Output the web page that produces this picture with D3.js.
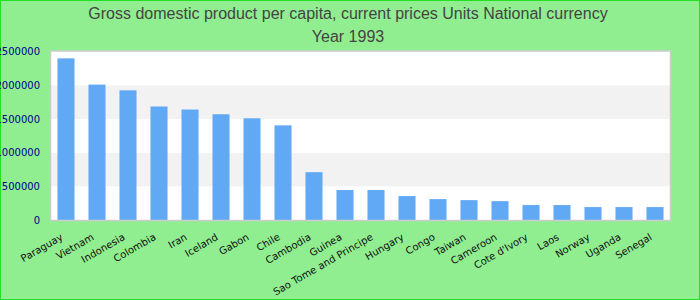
<!DOCTYPE html>
<html>
<head>
<meta charset="utf-8">
<script src="https://cdn.jsdelivr.net/npm/d3@7"></script>
<style>
  body { margin: 0; padding: 0; background: #90ee90; }
  svg { display: block; }
</style>
</head>
<body>
<script>
// data
var countries = ["Paraguay", "Vietnam", "Indonesia", "Colombia", "Iran", "Iceland", "Gabon", "Chile",
    "Cambodia", "Guinea", "Sao Tome and Principe", "Hungary", "Congo", "Taiwan", "Cameroon",
    "Cote d'Ivory", "Laos", "Norway", "Uganda", "Senegal"];
var values = [2400000, 2010000, 1925000, 1685000, 1640000, 1570000, 1510000, 1405000,
    710000, 445000, 445000, 355000, 310000, 295000, 280000,
    222000, 222000, 192000, 192000, 192000];
var yTicks = [0, 500000, 1000000, 1500000, 2000000, 2500000];
var titleLines = ["Gross domestic product per capita, current prices Units National currency", "Year 1993"];

var W = 700, H = 300;
var plot = {left: 50.5, right: 670.5, top: 51, bottom: 220.5};

var svg = d3.select("body").append("svg")
    .attr("width", W)
    .attr("height", H);

// background + outer border
svg.append("rect")
    .attr("x", 0.5).attr("y", 0.5)
    .attr("width", W - 1).attr("height", H - 1)
    .attr("fill", "#90ee90")
    .attr("stroke", "#22e022")
    .attr("stroke-width", 1);

// titles
svg.selectAll(".title")
    .data(titleLines)
    .enter()
    .append("text")
    .attr("class", "title")
    .attr("x", 348)
    .attr("y", function(d, i) { return 19 + i * 23; })
    .attr("text-anchor", "middle")
    .attr("fill", "#444")
    .style("font-family", "'Liberation Sans', Arial, sans-serif")
    .style("font-size", "16px")
    .text(function(d) { return d; });

// scales
var x = d3.scaleBand()
    .domain(countries)
    .range([plot.left, plot.right])
    .paddingInner(0.45)
    .paddingOuter(0.225);
var y = d3.scaleLinear()
    .domain([0, 2500000])
    .range([220, 51.6]);

// plot area + alternating bands
svg.append("rect")
    .attr("x", plot.left).attr("y", plot.top)
    .attr("width", plot.right - plot.left)
    .attr("height", plot.bottom - plot.top)
    .attr("fill", "#fff");

svg.selectAll(".band")
    .data(yTicks.slice(0, -1))
    .enter()
    .append("rect")
    .attr("class", "band")
    .attr("x", plot.left)
    .attr("width", plot.right - plot.left)
    .attr("y", function(d, i) { return i == yTicks.length - 2 ? plot.top : y(yTicks[i + 1]); })
    .attr("height", function(d, i) { return y(d) - (i == yTicks.length - 2 ? plot.top : y(yTicks[i + 1])); })
    .attr("fill", function(d, i) { return i % 2 ? "#f2f2f2" : "#fff"; });

// bars
svg.selectAll(".bar")
    .data(values)
    .enter()
    .append("rect")
    .attr("class", "bar")
    .attr("x", function(d, i) { return x(countries[i]); })
    .attr("width", x.bandwidth())
    .attr("y", function(d) { return y(d); })
    .attr("height", function(d) { return y(0) - y(d); })
    .attr("fill", "#62a9f5");

// plot border
svg.append("rect")
    .attr("x", plot.left).attr("y", plot.top)
    .attr("width", plot.right - plot.left)
    .attr("height", plot.bottom - plot.top)
    .attr("fill", "none")
    .attr("stroke", "#ccc")
    .attr("stroke-width", 1.5);

// y axis: labels only
var yAxis = svg.append("g")
    .attr("transform", "translate(40,0)")
    .call(d3.axisLeft(y).tickValues(yTicks).tickSize(0).tickPadding(0).tickFormat(d3.format("d")));
yAxis.select(".domain").remove();
yAxis.selectAll("text")
    .attr("fill", "#00008b")
    .style("font-family", "'DejaVu Sans', sans-serif")
    .style("font-size", "10px");

// x axis: rotated labels only
var xAxis = svg.append("g")
    .attr("transform", "translate(0,221)")
    .call(d3.axisBottom(x).tickSize(0).tickPadding(0));
xAxis.select(".domain").remove();
xAxis.selectAll("text")
    .attr("fill", "#111")
    .style("font-family", "'DejaVu Sans', sans-serif")
    .style("font-size", "10px")
    .style("text-anchor", "end")
    .attr("x", 0).attr("y", 0).attr("dy", "0.35em")
    .attr("transform", "translate(-4,15) rotate(-30)");
</script>
</body>
</html>
